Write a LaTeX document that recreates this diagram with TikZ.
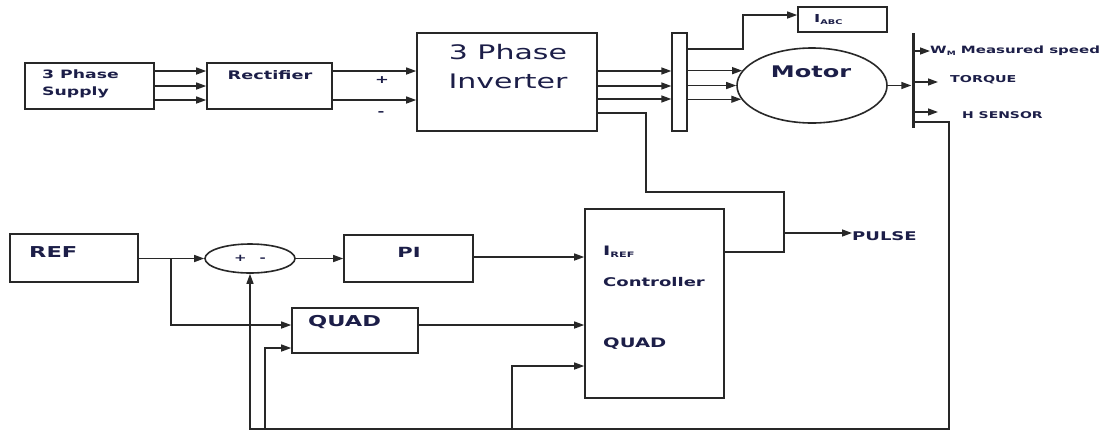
\documentclass[tikz,border=0pt]{standalone}
\usepackage{fontspec}
\usetikzlibrary{arrows.meta,shapes.geometric}
\newfontfamily\dfr[FakeStretch=1.5]{DejaVu Sans}
\newfontfamily\dfb[FakeStretch=1.5]{DejaVu Sans Bold}
\definecolor{txt}{RGB}{28,30,72}
\definecolor{ln}{RGB}{40,40,40}
\newcommand\fs[2]{\fontsize{#1}{#2}\selectfont}
\begin{document}
\begin{tikzpicture}[x=1pt,y=-1pt,
  blk/.style={draw=ln,line width=1.6pt,inner sep=0pt},
  lbl/.style={inner sep=0pt,text=txt},
  wire/.style={draw=ln,line width=1.4pt},
  arr/.style={wire,-{Triangle[length=10pt,width=7pt]}}]
\useasboundingbox (0,0) rectangle (1105,432);
\fill[white] (0,0) rectangle (1105,432);

% ---------- blocks ----------
\node[blk,minimum width=129,minimum height=46] (supply) at (89.5,86) {};
\node[blk,minimum width=125,minimum height=46] (rect) at (269.5,86) {};
\node[blk,minimum width=180,minimum height=98] (inv) at (507,82) {};
\node[blk,line width=1.4pt,minimum width=15,minimum height=98] (bus) at (679.5,82) {};
\node[blk,minimum width=89,minimum height=25] (iabc) at (842.5,19.5) {};
\node[blk,ellipse,minimum width=150,minimum height=75] (motor) at (812,85.5) {};
\node[fill=ln,inner sep=0pt,minimum width=3,minimum height=95] (sbar) at (913,80.5) {};

\node[blk,minimum width=128,minimum height=48] (ref) at (74,258) {};
\node[blk,ellipse,minimum width=90,minimum height=29,font=\dfb\fs{10}{10},text=txt] (sum) at (250,258.5) {+\hspace{13pt}-};
\node[blk,minimum width=129,minimum height=47] (pi) at (408.5,258.5) {};
\node[blk,minimum width=126,minimum height=45] (quad) at (355,330.5) {};
\node[blk,minimum width=139,minimum height=189] (ctrl) at (654.5,303.5) {};

% ---------- texts ----------
\node[lbl,font=\dfb\fs{11.5}{17},align=left,anchor=west] (tsup) at (42,84) {3 Phase\\Supply};
\node[lbl,font=\dfb\fs{11.8}{12}] (trect) at (270,75) {Rectifier};
\node[lbl,font=\dfb\fs{11}{11}] (tplus) at (382,80) {+};
\node[lbl,font=\dfb\fs{11}{11}] (tminus) at (381,114) {-};
\node[lbl,font=\dfr\fs{20}{29},align=center] (tinv) at (508,67) {3 Phase\\Inverter};
\node[lbl,font=\dfb\fs{11}{11},anchor=west] (tiabc) at (814,20) {I\raisebox{-2pt}{\fs{6.5}{6.5}ABC}};
\node[lbl,font=\dfb\fs{16}{16}] (tmotor) at (811,72) {Motor};
\node[lbl,font=\dfb\fs{10}{10},anchor=west] (tspeed) at (930,51) {W\raisebox{-1.5pt}{\fs{6}{6}M} Measured speed};
\node[lbl,font=\dfb\fs{9.5}{10},anchor=west] (ttorque) at (950,80) {TORQUE};
\node[lbl,font=\dfb\fs{9.3}{10},anchor=west] (thsens) at (962,115) {H SENSOR};

\node[lbl,font=\dfb\fs{15}{15},anchor=west] (tref) at (29,252) {REF};
\node[lbl,font=\dfb\fs{14}{14}] (tpi) at (409,252) {PI};
\node[lbl,font=\dfb\fs{15}{15},anchor=west] (tquad) at (308,322) {QUAD};
\node[lbl,font=\dfb\fs{13}{13},anchor=west] (tiref) at (603,252) {I\raisebox{-2.5pt}{\fs{7.5}{7.5}REF}};
\node[lbl,font=\dfb\fs{12}{12},anchor=west] (tctrl) at (603,282) {Controller};
\node[lbl,font=\dfb\fs{13}{13},anchor=west] (tcquad) at (603,344) {QUAD};
\node[lbl,font=\dfb\fs{12}{12},anchor=west] (tpulse) at (852,236) {PULSE};

% ---------- helper points ----------
\coordinate (pj) at (784,233);
\coordinate (fbA) at (265,429);
\coordinate (fbB) at (512,429);
\coordinate (brR) at (171,259);

% ---------- power path ----------
\foreach \yy in {71,86,100}
  \draw[arr] (supply.east |- 0,\yy) -- (rect.west |- 0,\yy);
\foreach \yy in {71,100}
  \draw[arr] (rect.east |- 0,\yy) -- (inv.west |- 0,\yy);
\foreach \yy in {71,86,99}
  \draw[arr] (inv.east |- 0,\yy) -- (bus.west |- 0,\yy);
\draw[arr] (bus.east |- 0,49) -- (743,49) -- (743,15) -- (iabc.west |- 0,15);
\draw[arr] (bus.east |- motor.168.6) -- (motor.168.6);
\draw[arr] (bus.east |- motor.west) -- (motor.west);
\draw[arr] (bus.east |- motor.191.4) -- (motor.191.4);
\draw[arr] (motor.east) -- (sbar.west |- motor.east);
\draw[arr] (sbar.east |- tspeed.west) -- (tspeed.west);
\draw[arr,shorten >=12pt] (sbar.east |- 0,82) -- (ttorque.west |- 0,82);
\draw[arr,shorten >=24pt] (sbar.east |- 0,112) -- (thsens.west |- 0,112);

% inverter gate pulses
\draw[wire] (inv.east |- 0,113) -- (646,113) -- (646,192) -- (784,192) -- (784,252) -- (ctrl.east |- 0,252);
\draw[arr] (pj) -- (tpulse.west |- pj);

% ---------- control path ----------
\draw[arr] (ref.east |- sum.west) -- (sum.west);
\draw[arr] (brR) |- (quad.west |- 0,325);
\draw[arr] (sum.east) -- (pi.west |- sum.east);
\draw[arr] (pi.east |- 0,257) -- (ctrl.west |- 0,257);
\draw[arr] (quad.east |- 0,325) -- (ctrl.west |- 0,325);

% feedback
\draw[arr] (sbar.east |- 0,122) -- (949,122) -- (949,429) -| (sum.south);
\draw[arr] (fbA) |- (quad.west |- 0,348);
\draw[arr] (fbB) |- (ctrl.west |- 0,366);
\end{tikzpicture}
\end{document}
